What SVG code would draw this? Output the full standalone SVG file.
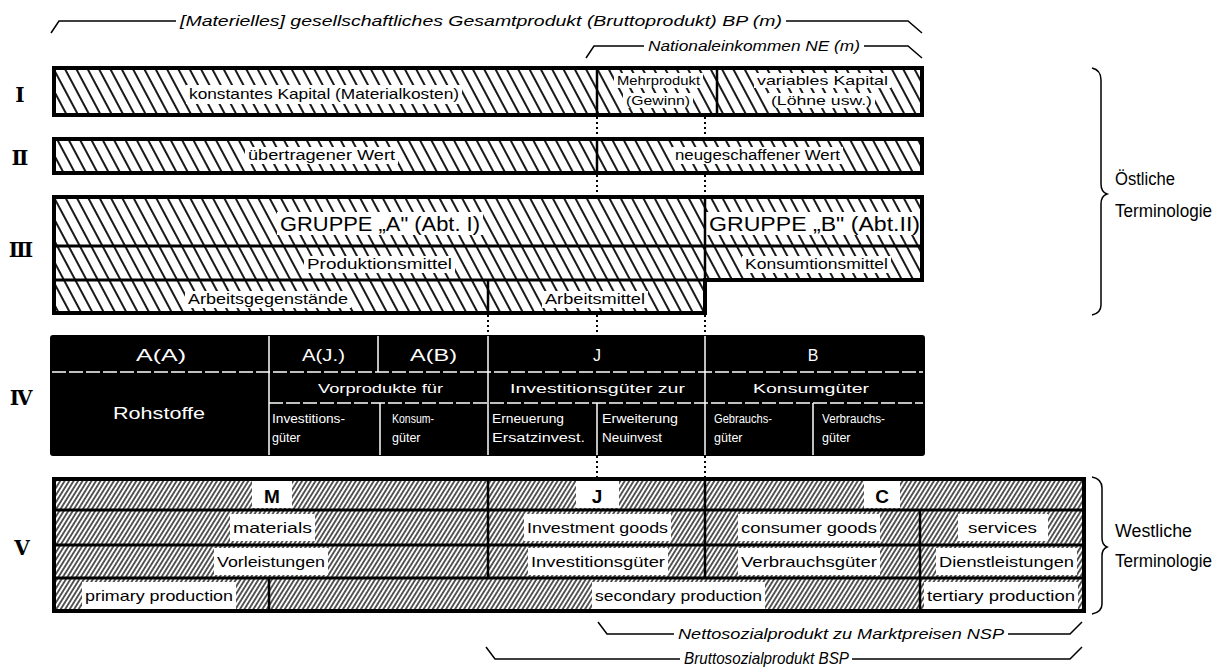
<svg xmlns="http://www.w3.org/2000/svg" width="1228" height="672" viewBox="0 0 1228 672">
<defs>
<pattern id="hb" patternUnits="userSpaceOnUse" width="10" height="10" patternTransform="rotate(-28)"><rect width="10" height="10" fill="#fff"/><line x1="5" y1="-1" x2="5" y2="11" stroke="#000" stroke-width="1.8"/></pattern>
<pattern id="hf" patternUnits="userSpaceOnUse" width="3.8" height="10" patternTransform="rotate(32)"><rect width="3.8" height="10" fill="#fff"/><line x1="1.9" y1="-1" x2="1.9" y2="11" stroke="#000" stroke-width="1.3"/></pattern>
<style>
.t{font-family:"Liberation Sans",Arial,sans-serif;fill:#000}
.it{font-style:italic}
.wt{fill:#fff}
.bg{fill:#fff}
.rn{font-family:"DejaVu Serif",serif;font-weight:bold;font-size:20px;text-anchor:middle;fill:#000}
.bd{fill:none;stroke:#000;stroke-width:4}
.dv{stroke:#000;stroke-width:2.5}
.hl{stroke:#000;stroke-width:3}
.wl{stroke:#fff;stroke-width:1.5}
.wd{stroke:#fff;stroke-width:1.5;stroke-dasharray:14 3}
.dot{stroke:#000;stroke-width:2;stroke-dasharray:2 3;fill:none}
.br{fill:none;stroke:#000;stroke-width:1.5}
</style>
</defs>

<g id="numerals">
<text class="rn" x="20" y="102">Ⅰ</text>
<text class="rn" x="20" y="165">Ⅱ</text>
<text class="rn" x="21" y="257">Ⅲ</text>
<text class="rn" x="21" y="405">Ⅳ</text>
<text class="rn" x="22" y="555">Ⅴ</text>
</g>

<g id="header">
<path class="br" d="M51,33 L59,21 L176,21 M786,21 L908,21 L922,33"/>
<text class="t it" x="180" y="26" font-size="15.5" textLength="602" lengthAdjust="spacingAndGlyphs">[Materielles] gesellschaftliches Gesamtprodukt (Bruttoprodukt) BP (m)</text>
<path class="br" d="M586,58 L594,46 L644,46 M864,46 L908,46 L922,58"/>
<text class="t it" x="648" y="51" font-size="15.5" textLength="212" lengthAdjust="spacingAndGlyphs">Nationaleinkommen NE (m)</text>
</g>

<g id="row1">
<rect x="54" y="68" width="868" height="47" fill="url(#hb)"/>
<rect class="bg" x="186" y="85" width="276" height="19"/>
<rect class="bg" x="614" y="73" width="89" height="15"/>
<rect class="bg" x="623" y="93" width="70" height="15"/>
<rect class="bg" x="754" y="73" width="137" height="15"/>
<rect class="bg" x="768" y="93" width="107" height="15"/>
<text class="t" x="189" y="99" font-size="15" textLength="270" lengthAdjust="spacingAndGlyphs">konstantes Kapital (Materialkosten)</text>
<text class="t" x="617" y="85" font-size="13" textLength="83" lengthAdjust="spacingAndGlyphs">Mehrprodukt</text>
<text class="t" x="626" y="105" font-size="13" textLength="64" lengthAdjust="spacingAndGlyphs">(Gewinn)</text>
<text class="t" x="757" y="85" font-size="13" textLength="131" lengthAdjust="spacingAndGlyphs">variables Kapital</text>
<text class="t" x="771" y="105" font-size="13" textLength="101" lengthAdjust="spacingAndGlyphs">(Löhne usw.)</text>
<line class="dv" x1="597" y1="68" x2="597" y2="115"/>
<line class="dv" x1="717" y1="68" x2="717" y2="115"/>
<rect class="bd" x="54" y="68" width="868" height="47"/>
</g>

<g id="row2">
<rect x="54" y="139" width="868" height="34" fill="url(#hb)"/>
<rect class="bg" x="245" y="147" width="153" height="17"/>
<rect class="bg" x="672" y="147" width="171" height="17"/>
<text class="t" x="248" y="160" font-size="14" textLength="147" lengthAdjust="spacingAndGlyphs">übertragener Wert</text>
<text class="t" x="675" y="160" font-size="14" textLength="165" lengthAdjust="spacingAndGlyphs">neugeschaffener Wert</text>
<line class="dv" x1="597" y1="139" x2="597" y2="173"/>
<rect class="bd" x="54" y="139" width="868" height="34"/>
</g>

<g id="row3">
<path d="M54,197 H922 V280 H705 V313 H54 Z" fill="url(#hb)"/>
<rect class="bg" x="277" y="212" width="206" height="23"/>
<rect class="bg" x="706" y="212" width="216" height="23"/>
<rect class="bg" x="304" y="256" width="151" height="17"/>
<rect class="bg" x="742" y="256" width="149" height="17"/>
<rect class="bg" x="185" y="291" width="166" height="17"/>
<rect class="bg" x="542" y="291" width="106" height="17"/>
<text class="t" x="280" y="231" font-size="20" textLength="200" lengthAdjust="spacingAndGlyphs">GRUPPE „A" (Abt. I)</text>
<text class="t" x="709" y="231" font-size="20" textLength="211" lengthAdjust="spacingAndGlyphs">GRUPPE „B" (Abt.II)</text>
<text class="t" x="307" y="269" font-size="14" textLength="145" lengthAdjust="spacingAndGlyphs">Produktionsmittel</text>
<text class="t" x="745" y="269" font-size="14" textLength="143" lengthAdjust="spacingAndGlyphs">Konsumtionsmittel</text>
<text class="t" x="188" y="304" font-size="14" textLength="160" lengthAdjust="spacingAndGlyphs">Arbeitsgegenstände</text>
<text class="t" x="545" y="304" font-size="14" textLength="100" lengthAdjust="spacingAndGlyphs">Arbeitsmittel</text>
<line class="hl" x1="54" y1="246" x2="922" y2="246"/>
<line class="hl" x1="54" y1="280" x2="705" y2="280"/>
<line class="dv" x1="705" y1="197" x2="705" y2="280"/>
<line class="dv" x1="488" y1="280" x2="488" y2="313"/>
<path class="bd" d="M54,197 H922 V280 H705 V313 H54 Z"/>
</g>

<g id="row4">
<rect x="50" y="335" width="875" height="121" rx="3" fill="#000"/>
<line class="wd" x1="52" y1="372" x2="923" y2="372"/>
<line class="wd" x1="269" y1="403" x2="923" y2="403"/>
<line class="wl" x1="269" y1="336" x2="269" y2="455"/>
<line class="wl" x1="378" y1="336" x2="378" y2="372"/>
<line class="wl" x1="488" y1="336" x2="488" y2="455"/>
<line class="wl" x1="705" y1="336" x2="705" y2="455"/>
<line class="wl" x1="380" y1="403" x2="380" y2="455"/>
<line class="wl" x1="597" y1="403" x2="597" y2="455"/>
<line class="wl" x1="813" y1="403" x2="813" y2="455"/>
<text class="t wt" x="136" y="361" font-size="16" textLength="50" lengthAdjust="spacingAndGlyphs">A(A)</text>
<text class="t wt" x="302" y="361" font-size="16" textLength="43" lengthAdjust="spacingAndGlyphs">A(J.)</text>
<text class="t wt" x="410" y="361" font-size="16" textLength="47" lengthAdjust="spacingAndGlyphs">A(B)</text>
<text class="t wt" x="597" y="361" font-size="16" text-anchor="middle">J</text>
<text class="t wt" x="813" y="361" font-size="16" text-anchor="middle">B</text>
<text class="t wt" x="318" y="393" font-size="13" textLength="125" lengthAdjust="spacingAndGlyphs">Vorprodukte für</text>
<text class="t wt" x="510" y="393" font-size="13" textLength="175" lengthAdjust="spacingAndGlyphs">Investitionsgüter zur</text>
<text class="t wt" x="753" y="393" font-size="13" textLength="116" lengthAdjust="spacingAndGlyphs">Konsumgüter</text>
<text class="t wt" x="113" y="419" font-size="17" textLength="92" lengthAdjust="spacingAndGlyphs">Rohstoffe</text>
<text class="t wt" x="272" y="423" font-size="12.5" textLength="73" lengthAdjust="spacingAndGlyphs">Investitions-</text>
<text class="t wt" x="272" y="442" font-size="12.5">güter</text>
<text class="t wt" x="392" y="423" font-size="12.5" textLength="42" lengthAdjust="spacingAndGlyphs">Konsum-</text>
<text class="t wt" x="392" y="442" font-size="12.5">güter</text>
<text class="t wt" x="492" y="423" font-size="12.5" textLength="72" lengthAdjust="spacingAndGlyphs">Erneuerung</text>
<text class="t wt" x="492" y="442" font-size="12.5" textLength="93" lengthAdjust="spacingAndGlyphs">Ersatzinvest.</text>
<text class="t wt" x="602" y="423" font-size="12.5" textLength="76" lengthAdjust="spacingAndGlyphs">Erweiterung</text>
<text class="t wt" x="602" y="442" font-size="12.5" textLength="60" lengthAdjust="spacingAndGlyphs">Neuinvest</text>
<text class="t wt" x="714" y="423" font-size="12.5" textLength="58" lengthAdjust="spacingAndGlyphs">Gebrauchs-</text>
<text class="t wt" x="714" y="442" font-size="12.5">güter</text>
<text class="t wt" x="822" y="423" font-size="12.5" textLength="63" lengthAdjust="spacingAndGlyphs">Verbrauchs-</text>
<text class="t wt" x="822" y="442" font-size="12.5">güter</text>
</g>

<g id="row5">
<rect x="54" y="479" width="1030" height="132" fill="url(#hf)"/>
<rect class="bg" x="252" y="481" width="40" height="27"/>
<rect class="bg" x="576" y="481" width="43" height="27"/>
<rect class="bg" x="864" y="481" width="36" height="27"/>
<rect class="bg" x="230" y="514" width="85" height="27"/>
<rect class="bg" x="524" y="514" width="147" height="27"/>
<rect class="bg" x="738" y="514" width="142" height="27"/>
<rect class="bg" x="958" y="514" width="90" height="27"/>
<rect class="bg" x="214" y="548" width="114" height="27"/>
<rect class="bg" x="528" y="548" width="140" height="27"/>
<rect class="bg" x="738" y="548" width="142" height="27"/>
<rect class="bg" x="936" y="548" width="141" height="27"/>
<rect class="bg" x="82" y="582" width="154" height="27"/>
<rect class="bg" x="592" y="582" width="173" height="27"/>
<rect class="bg" x="924" y="582" width="154" height="27"/>
<text class="t" x="272" y="503" font-size="19" font-weight="bold" text-anchor="middle">M</text>
<text class="t" x="597" y="503" font-size="19" font-weight="bold" text-anchor="middle">J</text>
<text class="t" x="882" y="503" font-size="19" font-weight="bold" text-anchor="middle">C</text>
<text class="t" x="233" y="533" font-size="15" textLength="79" lengthAdjust="spacingAndGlyphs">materials</text>
<text class="t" x="527" y="533" font-size="15" textLength="141" lengthAdjust="spacingAndGlyphs">Investment goods</text>
<text class="t" x="741" y="533" font-size="15" textLength="136" lengthAdjust="spacingAndGlyphs">consumer goods</text>
<text class="t" x="968" y="533" font-size="15" textLength="69" lengthAdjust="spacingAndGlyphs">services</text>
<text class="t" x="217" y="567" font-size="15" textLength="108" lengthAdjust="spacingAndGlyphs">Vorleistungen</text>
<text class="t" x="531" y="567" font-size="15" textLength="134" lengthAdjust="spacingAndGlyphs">Investitionsgüter</text>
<text class="t" x="741" y="567" font-size="15" textLength="136" lengthAdjust="spacingAndGlyphs">Verbrauchsgüter</text>
<text class="t" x="939" y="567" font-size="15" textLength="135" lengthAdjust="spacingAndGlyphs">Dienstleistungen</text>
<text class="t" x="85" y="601" font-size="15" textLength="148" lengthAdjust="spacingAndGlyphs">primary production</text>
<text class="t" x="595" y="601" font-size="15" textLength="167" lengthAdjust="spacingAndGlyphs">secondary production</text>
<text class="t" x="927" y="601" font-size="15" textLength="148" lengthAdjust="spacingAndGlyphs">tertiary production</text>
<line class="hl" x1="54" y1="510" x2="1084" y2="510"/>
<line class="hl" x1="54" y1="545" x2="1084" y2="545"/>
<line class="hl" x1="54" y1="578" x2="1084" y2="578"/>
<line class="dv" x1="488" y1="479" x2="488" y2="578"/>
<line class="dv" x1="705" y1="479" x2="705" y2="578"/>
<line class="dv" x1="920" y1="510" x2="920" y2="611"/>
<line class="dv" x1="269" y1="578" x2="269" y2="611"/>
<rect class="bd" x="54" y="479" width="1030" height="132"/>
</g>

<g id="east-label">
<path class="br" d="M1092,68 Q1101,70 1101,80 L1101,184 Q1101,192 1107,194 Q1101,196 1101,204 L1101,305 Q1101,313 1092,315"/>
<text class="t" x="1115" y="185" font-size="18" textLength="60" lengthAdjust="spacingAndGlyphs">Östliche</text>
<text class="t" x="1115" y="217" font-size="18" textLength="97" lengthAdjust="spacingAndGlyphs">Terminologie</text>
</g>

<g id="west-label">
<path class="br" d="M1092,477 Q1102,479 1102,488 L1102,538 Q1102,545 1107,547 Q1102,549 1102,556 L1102,604 Q1102,612 1092,614"/>
<text class="t" x="1115" y="537" font-size="18" textLength="77" lengthAdjust="spacingAndGlyphs">Westliche</text>
<text class="t" x="1115" y="567" font-size="18" textLength="97" lengthAdjust="spacingAndGlyphs">Terminologie</text>
</g>

<g id="footer">
<path class="br" d="M598,622 L607,634 L674,634 M1008,634 L1070,634 L1082,622"/>
<text class="t it" x="678" y="639" font-size="15.5" textLength="326" lengthAdjust="spacingAndGlyphs">Nettosozialprodukt zu Marktpreisen NSP</text>
<path class="br" d="M486,647 L495,659 L680,659 M852,659 L1070,659 L1082,647"/>
<text class="t it" x="684" y="664" font-size="16" textLength="165" lengthAdjust="spacingAndGlyphs">Bruttosozialprodukt BSP</text>
</g>

<g id="connectors">
<path class="dot" d="M597,117 V137 M705,117 V137 M597,175 V195 M705,175 V195 M488,315 V335 M597,315 V335 M705,315 V335 M597,456 V477 M705,456 V477"/>
</g>
</svg>
